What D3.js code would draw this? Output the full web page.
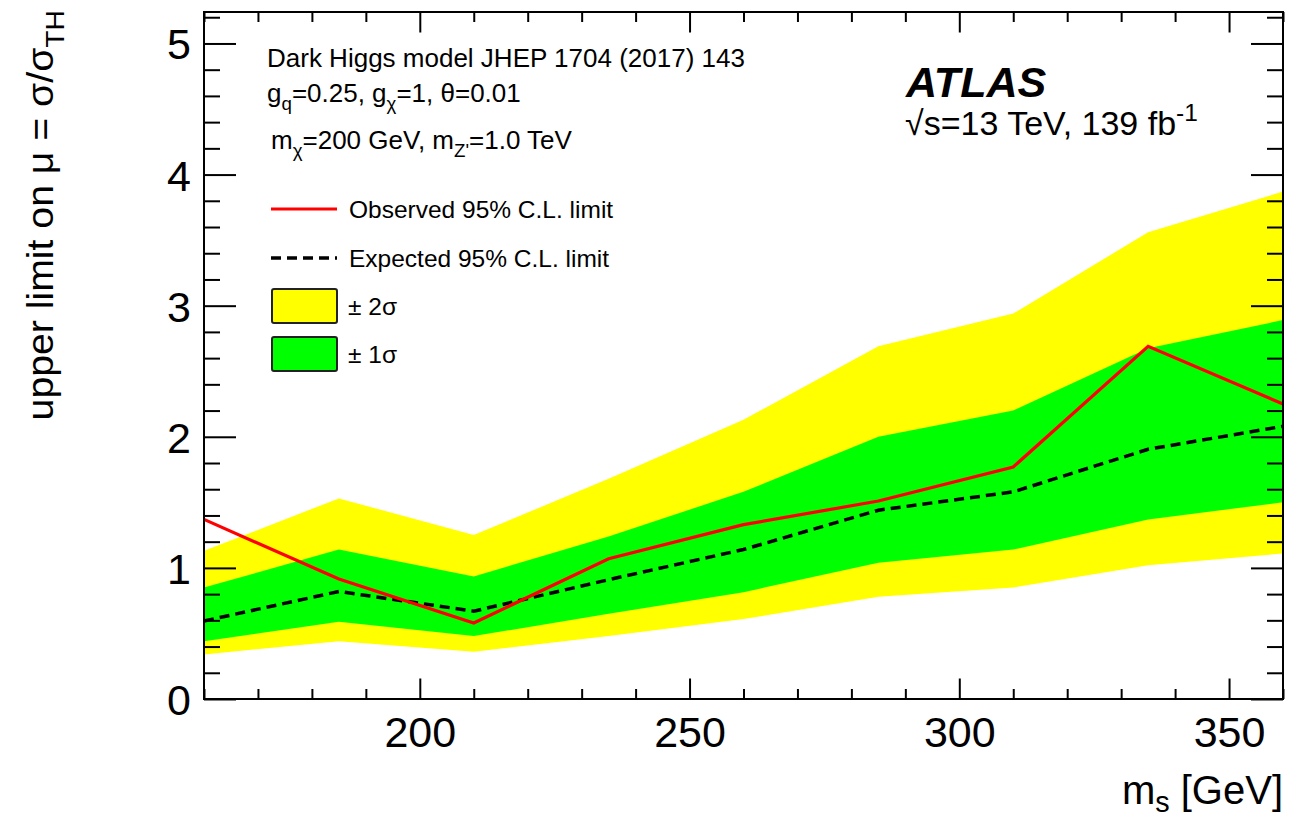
<!DOCTYPE html>
<html>
<head>
<meta charset="utf-8">
<script src="https://cdn.jsdelivr.net/npm/d3@7"></script>
<style>
  body { margin: 0; background: #fff; }
  text { font-family: "Liberation Sans", Arial, Helvetica, sans-serif; fill: #000; }
</style>
</head>
<body>
<svg id="chart" width="1299" height="817"></svg>
<script>
// scalar mass points (GeV) and the limits
const massPoints = [160, 185, 210, 235, 260, 285, 310, 335, 360];
const observed   = [1.37, 0.915, 0.58, 1.07, 1.33, 1.51, 1.77, 2.69, 2.25];
const expected   = [0.595, 0.82, 0.67, 0.91, 1.14, 1.44, 1.58, 1.905, 2.08];
const plus1      = [0.85, 1.14, 0.935, 1.24, 1.58, 2.00, 2.20, 2.675, 2.89];
const minus1     = [0.44, 0.59, 0.48, 0.65, 0.815, 1.04, 1.14, 1.37, 1.50];
const plus2      = [1.13, 1.53, 1.25, 1.68, 2.13, 2.69, 2.94, 3.56, 3.87];
const minus2     = [0.34, 0.44, 0.36, 0.48, 0.61, 0.78, 0.85, 1.02, 1.11];

// axis ticks
const xMajorTicks = [200, 250, 300, 350];
const xMinorTicks = d3.range(160, 361, 10).filter(d => d % 50 !== 0);
const yMajorTicks = [0, 1, 2, 3, 4, 5];
const yMinorTicks = d3.range(0, 5.21, 0.2).filter(d => Math.abs(d - Math.round(d)) > 1e-6);

// texts
const legendLabels = ["Observed 95% C.L. limit", "Expected 95% C.L. limit", "\u00b1 2\u03c3", "\u00b1 1\u03c3"];
const infoLines = [
  [{t: "Dark Higgs model JHEP 1704 (2017) 143"}],
  [{t: "g"}, {t: "q", sub: true}, {t: "=0.25, g"}, {t: "\u03c7", sub: true}, {t: "=1, \u03b8=0.01"}],
  [{t: "m"}, {t: "\u03c7", sub: true}, {t: "=200 GeV, m"}, {t: "Z'", sub: true}, {t: "=1.0 TeV"}]
];

const svg = d3.select("#chart");
const margin = {t: 12, r: 16, b: 118, l: 204};
const width = +svg.attr("width");
const height = +svg.attr("height");
const x0 = margin.l, x1 = width - margin.r;
const y0 = height - margin.b, y1 = margin.t;

const x = d3.scaleLinear().domain([160, 360]).range([x0, x1]);
const y = d3.scaleLinear().domain([0, 5.24]).range([y0, y1]);

const rows = massPoints.map((m, i) => ({
  m: m, obs: observed[i], exp: expected[i],
  p1: plus1[i], m1: minus1[i], p2: plus2[i], m2: minus2[i]
}));

// writes text with sub/superscripts as tspans
function richText(sel, parts, size, subShift) {
  const down = subShift === undefined ? 0.3 : subShift;
  let shift = 0;
  parts.forEach(p => {
    const target = p.sub ? size * down : (p.sup ? -size * 0.42 : 0);
    sel.append("tspan")
      .attr("dy", target - shift)
      .attr("font-size", (p.sub || p.sup) ? size * 0.72 : size)
      .text(p.t);
    shift = target;
  });
}

// bands
const band = (lo, hi) => d3.area()
  .x(d => x(d.m))
  .y0(d => y(d[lo]))
  .y1(d => y(d[hi]));

svg.append("path").datum(rows)
  .attr("d", band("m2", "p2"))
  .attr("fill", "#ffff00");
svg.append("path").datum(rows)
  .attr("d", band("m1", "p1"))
  .attr("fill", "#00ff00");

// lines
svg.append("path").datum(rows)
  .attr("d", d3.line().x(d => x(d.m)).y(d => y(d.exp)))
  .attr("fill", "none")
  .attr("stroke", "#000")
  .attr("stroke-width", 3.5)
  .attr("stroke-dasharray", "10,6");
svg.append("path").datum(rows)
  .attr("d", d3.line().x(d => x(d.m)).y(d => y(d.obs)))
  .attr("fill", "none")
  .attr("stroke", "#ff0000")
  .attr("stroke-width", 3.2);

// axes, ROOT style ticks pointing inwards on all four sides
const axisStyle = g => g.call(s => s.select(".domain").remove())
  .selectAll("line").attr("stroke", "#000").attr("stroke-width", 2);

svg.append("g").attr("transform", `translate(0,${y0})`)
  .call(d3.axisBottom(x).tickValues(xMinorTicks).tickSize(-10).tickFormat(""))
  .call(axisStyle);
svg.append("g").attr("transform", `translate(0,${y0})`)
  .call(d3.axisBottom(x).tickValues(xMajorTicks).tickSize(-20.5).tickFormat(d3.format("d")))
  .call(axisStyle)
  .call(g => g.selectAll("text")
    .attr("y", 48).attr("dy", null)
    .attr("font-size", 43).attr("font-family", null).attr("fill", "#000"));

svg.append("g").attr("transform", `translate(0,${y1})`)
  .call(d3.axisTop(x).tickValues(xMinorTicks).tickSize(-10).tickFormat(""))
  .call(axisStyle);
svg.append("g").attr("transform", `translate(0,${y1})`)
  .call(d3.axisTop(x).tickValues(xMajorTicks).tickSize(-20.5).tickFormat(""))
  .call(axisStyle);

svg.append("g").attr("transform", `translate(${x0},0)`)
  .call(d3.axisLeft(y).tickValues(yMinorTicks).tickSize(-16).tickFormat(""))
  .call(axisStyle);
svg.append("g").attr("transform", `translate(${x0},0)`)
  .call(d3.axisLeft(y).tickValues(yMajorTicks).tickSize(-32).tickFormat(d3.format("d")))
  .call(axisStyle)
  .call(g => g.selectAll("text")
    .attr("x", -13).attr("dy", null).attr("y", 15.5)
    .attr("font-size", 43).attr("font-family", null).attr("fill", "#000"));

svg.append("g").attr("transform", `translate(${x1},0)`)
  .call(d3.axisRight(y).tickValues(yMinorTicks).tickSize(-16).tickFormat(""))
  .call(axisStyle);
svg.append("g").attr("transform", `translate(${x1},0)`)
  .call(d3.axisRight(y).tickValues(yMajorTicks).tickSize(-32).tickFormat(""))
  .call(axisStyle);

// frame
svg.append("rect")
  .attr("x", x0).attr("y", y1)
  .attr("width", x1 - x0).attr("height", y0 - y1)
  .attr("fill", "none").attr("stroke", "#000").attr("stroke-width", 2);

// axis titles
const xTitle = svg.append("text")
  .attr("x", x1).attr("y", 804)
  .attr("text-anchor", "end");
richText(xTitle, [{t: "m"}, {t: "s", sub: true}, {t: " [GeV]"}], 40, 0.2);

const yTitle = svg.append("text")
  .attr("transform", "translate(53,10) rotate(-90) scale(1.06,1)")
  .attr("text-anchor", "end");
richText(yTitle, [{t: "upper limit on \u03bc = \u03c3/\u03c3"}, {t: "TH", sub: true}], 37);

// model info
const infoY = [67, 102, 149];
const infoX = [267, 267, 271];
infoLines.forEach((parts, i) => {
  const t = svg.append("text").attr("x", infoX[i]).attr("y", infoY[i]);
  richText(t, parts, 26);
});

// ATLAS label
svg.append("text")
  .attr("x", 906).attr("y", 97)
  .attr("font-size", 43)
  .attr("font-weight", "bold")
  .attr("font-style", "italic")
  .text("ATLAS");
const lumi = svg.append("text").attr("x", 905).attr("y", 135);
richText(lumi, [{t: "\u221as=13 TeV, 139 fb"}, {t: "-1", sup: true}], 34);

// legend
const legend = svg.append("g");
const legendX = 271, legendW = 66, legendTextX = 349;
const legendY = [209, 258, 306, 354];

legend.append("line")
  .attr("x1", legendX).attr("x2", legendX + legendW)
  .attr("y1", legendY[0]).attr("y2", legendY[0])
  .attr("stroke", "#ff0000").attr("stroke-width", 3.2);
legend.append("line")
  .attr("x1", legendX).attr("x2", legendX + legendW)
  .attr("y1", legendY[1]).attr("y2", legendY[1])
  .attr("stroke", "#000").attr("stroke-width", 3.5)
  .attr("stroke-dasharray", "10,6");
[["#ffff00", 2], ["#00ff00", 3]].forEach(([c, i]) => {
  legend.append("rect")
    .attr("x", legendX + 1).attr("y", legendY[i] - 17)
    .attr("width", legendW - 1).attr("height", 34)
    .attr("rx", 2)
    .attr("fill", c).attr("stroke", "#222").attr("stroke-width", 2);
});
legend.selectAll(".legend-label")
  .data(legendLabels)
  .join("text")
  .attr("class", "legend-label")
  .attr("x", (d, i) => i < 2 ? legendTextX : legendTextX - 1)
  .attr("y", (d, i) => legendY[i] + 9)
  .attr("font-size", 24.5)
  .text(d => d);
</script>
</body>
</html>
